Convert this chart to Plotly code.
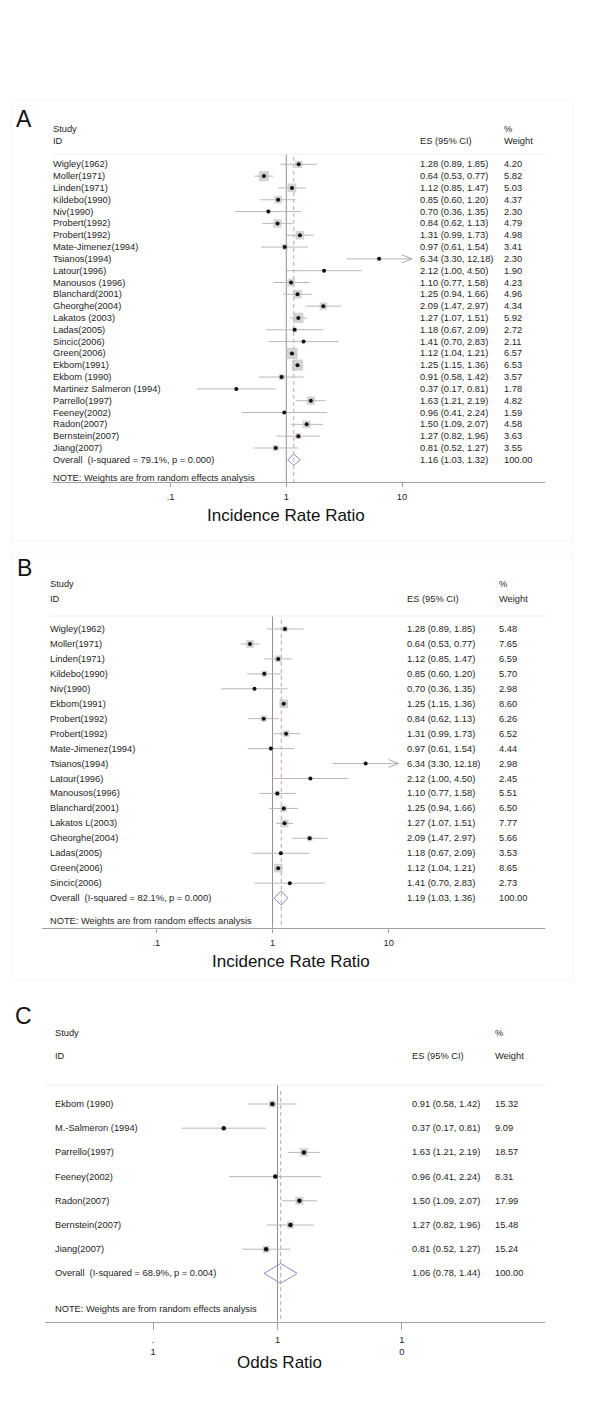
import plotly.graph_objects as go

# page body has an 8px margin; figure sized to fit the 600x1401 window
OFF = 8
W, H = 600 - OFF, 1401 - OFF

# ---------------- DATA ----------------
a_study = ["Wigley(1962)", "Moller(1971)", "Linden(1971)", "Kildebo(1990)", "Niv(1990)",
           "Probert(1992)", "Probert(1992)", "Mate-Jimenez(1994)", "Tsianos(1994)", "Latour(1996)",
           "Manousos (1996)", "Blanchard(2001)", "Gheorghe(2004)", "Lakatos (2003)", "Ladas(2005)",
           "Sincic(2006)", "Green(2006)", "Ekbom(1991)", "Ekbom (1990)", "Martinez Salmeron (1994)",
           "Parrello(1997)", "Feeney(2002)", "Radon(2007)", "Bernstein(2007)", "Jiang(2007)"]
a_es = [1.28, 0.64, 1.12, 0.85, 0.70, 0.84, 1.31, 0.97, 6.34, 2.12, 1.10, 1.25, 2.09, 1.27, 1.18,
        1.41, 1.12, 1.25, 0.91, 0.37, 1.63, 0.96, 1.50, 1.27, 0.81]
a_lo = [0.89, 0.53, 0.85, 0.60, 0.36, 0.62, 0.99, 0.61, 3.30, 1.00, 0.77, 0.94, 1.47, 1.07, 0.67,
        0.70, 1.04, 1.15, 0.58, 0.17, 1.21, 0.41, 1.09, 0.82, 0.52]
a_hi = [1.85, 0.77, 1.47, 1.20, 1.35, 1.13, 1.73, 1.54, 12.18, 4.50, 1.58, 1.66, 2.97, 1.51, 2.09,
        2.83, 1.21, 1.36, 1.42, 0.81, 2.19, 2.24, 2.07, 1.96, 1.27]
a_wt = [4.20, 5.82, 5.03, 4.37, 2.30, 4.79, 4.98, 3.41, 2.30, 1.90, 4.23, 4.96, 4.34, 5.92, 2.72,
        2.11, 6.57, 6.53, 3.57, 1.78, 4.82, 1.59, 4.58, 3.63, 3.55]
a_overall = ["Overall\u00a0\u00a0(I-squared = 79.1%, p = 0.000)", 1.16, 1.03, 1.32, 100.00]

b_study = ["Wigley(1962)", "Moller(1971)", "Linden(1971)", "Kildebo(1990)", "Niv(1990)",
           "Ekbom(1991)", "Probert(1992)", "Probert(1992)", "Mate-Jimenez(1994)", "Tsianos(1994)",
           "Latour(1996)", "Manousos(1996)", "Blanchard(2001)", "Lakatos L(2003)", "Gheorghe(2004)",
           "Ladas(2005)", "Green(2006)", "Sincic(2006)"]
b_es = [1.28, 0.64, 1.12, 0.85, 0.70, 1.25, 0.84, 1.31, 0.97, 6.34, 2.12, 1.10, 1.25, 1.27, 2.09,
        1.18, 1.12, 1.41]
b_lo = [0.89, 0.53, 0.85, 0.60, 0.36, 1.15, 0.62, 0.99, 0.61, 3.30, 1.00, 0.77, 0.94, 1.07, 1.47,
        0.67, 1.04, 0.70]
b_hi = [1.85, 0.77, 1.47, 1.20, 1.35, 1.36, 1.13, 1.73, 1.54, 12.18, 4.50, 1.58, 1.66, 1.51, 2.97,
        2.09, 1.21, 2.83]
b_wt = [5.48, 7.65, 6.59, 5.70, 2.98, 8.60, 6.26, 6.52, 4.44, 2.98, 2.45, 5.51, 6.50, 7.77, 5.66,
        3.53, 8.65, 2.73]
b_overall = ["Overall\u00a0\u00a0(I-squared = 82.1%, p = 0.000)", 1.19, 1.03, 1.36, 100.00]

c_study = ["Ekbom (1990)", "M.-Salmeron (1994)", "Parrello(1997)", "Feeney(2002)", "Radon(2007)",
           "Bernstein(2007)", "Jiang(2007)"]
c_es = [0.91, 0.37, 1.63, 0.96, 1.50, 1.27, 0.81]
c_lo = [0.58, 0.17, 1.21, 0.41, 1.09, 0.82, 0.52]
c_hi = [1.42, 0.81, 2.19, 2.24, 2.07, 1.96, 1.27]
c_wt = [15.32, 9.09, 18.57, 8.31, 17.99, 15.48, 15.24]
c_overall = ["Overall\u00a0\u00a0(I-squared = 68.9%, p = 0.004)", 1.06, 0.78, 1.44, 100.00]

tick_vals = [0.1, 1, 10]
tick_text_ab = [".1", "1", "10"]
tick_text_c = [".<br>1", "1", "1<br>0"]

# ---------------- LAYOUT CONSTANTS (window pixels) ----------------
FONT = "Arial, 'Liberation Sans', sans-serif"
TXT = "#1e1e1e"
FS = 9.3

panels = [
    dict(key="", data=(a_study, a_es, a_lo, a_hi, a_wt, a_overall), letter="A", letter_xy=(24, 119),
         study_x=51, es_x=418, wt_x=502, hdr1_y=129, hdr2_y=141, sep=(51.7, 545, 154),
         row0=164.3, sp=11.82, axis_y=482.3, dom=(51.7, 545), x1=286.3, dec=115.7,
         note_y=477.7, title="Incidence Rate Ratio", title_xy=(286, 515.7), ticklen=4,
         ticktext=tick_text_ab, box=(11, 100, 573, 541), sqk=1.72, dot=4, dh=0.48),
    dict(key="2", data=(b_study, b_es, b_lo, b_hi, b_wt, b_overall), letter="B", letter_xy=(24, 568),
         study_x=48, es_x=405, wt_x=497, hdr1_y=584, hdr2_y=599, sep=(48.6, 546, 616),
         row0=629, sp=14.95, axis_y=927.7, dom=(42, 545.4), x1=272.5, dec=116.15,
         note_y=920.7, title="Incidence Rate Ratio", title_xy=(291, 961), ticklen=4,
         ticktext=tick_text_ab, box=(11, 552, 573, 980), sqk=1.0, dot=4, dh=0.47),
    dict(key="3", data=(c_study, c_es, c_lo, c_hi, c_wt, c_overall), letter="C", letter_xy=(23, 1016),
         study_x=53, es_x=410, wt_x=493, hdr1_y=1032.7, hdr2_y=1056, sep=(46, 545, 1085),
         row0=1104, sp=24.2, axis_y=1321.7, dom=(45, 545), x1=277.5, dec=124.4,
         note_y=1309.3, title="Odds Ratio", title_xy=(279.4, 1362.3), ticklen=7,
         ticktext=tick_text_c, box=None, sqk=0.45, dot=4.5, dh=0.41),
]


def px(x):
    return (x - OFF) / W


def py(y):
    return 1 - (y - OFF) / H


fig = go.Figure()
annotations = []
shapes = []
layout = {}

for p in panels:
    study, es, lo, hi, wt, ov = p["data"]
    k = p["key"]
    xa, ya = "x" + k, "y" + k
    n = len(study)
    rows = list(range(n))
    orow = n
    row0, sp = p["row0"], p["sp"]
    top_i = (p["sep"][2] - row0) / sp
    bot_i = (p["axis_y"] - row0) / sp

    # axes
    xr = [(p["dom"][0] - p["x1"]) / p["dec"], (p["dom"][1] - p["x1"]) / p["dec"]]
    layout["xaxis" + k] = dict(
        type="log", domain=[px(p["dom"][0]), px(p["dom"][1])], range=xr, anchor=ya,
        showgrid=False, zeroline=False, showline=True, linecolor="#a0a0a0", linewidth=1,
        ticks="outside", ticklen=p["ticklen"], tickcolor="#a0a0a0", tickwidth=1,
        tickvals=tick_vals, ticktext=p["ticktext"],
        tickfont=dict(family=FONT, size=FS, color=TXT), ticklabelstandoff=2,
    )
    layout["yaxis" + k] = dict(
        domain=[py(p["axis_y"]), py(p["sep"][2])], range=[bot_i, top_i], anchor=xa,
        showgrid=False, zeroline=False, showline=False, showticklabels=False, ticks="",
    )

    # reference line at 1 and dashed overall line
    fig.add_trace(go.Scatter(x=[1, 1], y=[top_i, bot_i], mode="lines", xaxis=xa, yaxis=ya,
                             line=dict(color="#8f8f8f", width=1), hoverinfo="skip", showlegend=False))
    fig.add_trace(go.Scatter(x=[ov[1], ov[1]], y=[top_i + 0.25, bot_i], mode="lines", xaxis=xa, yaxis=ya,
                             line=dict(color="#dc9a9a", width=1, dash="4px,3px"),
                             hoverinfo="skip", showlegend=False))

    # CI lines
    cx, cy = [], []
    for i in rows:
        cx += [lo[i], hi[i], None]
        cy += [i, i, None]
    fig.add_trace(go.Scatter(x=cx, y=cy, mode="lines", xaxis=xa, yaxis=ya,
                             line=dict(color="#b8b8b8", width=1), hoverinfo="skip", showlegend=False))

    # arrows for CIs beyond last tick
    ax_, ay_ = [], []
    f = 10 ** (10 / p["dec"])
    hh = 4 / sp
    for i in rows:
        if hi[i] > tick_vals[-1]:
            ax_ += [hi[i] / f, hi[i], hi[i] / f, None]
            ay_ += [i - hh, i, i + hh, None]
    if ax_:
        fig.add_trace(go.Scatter(x=ax_, y=ay_, mode="lines", xaxis=xa, yaxis=ya,
                                 line=dict(color="#a8a8a8", width=1), hoverinfo="skip", showlegend=False))

    # weight boxes
    fig.add_trace(go.Scatter(x=es, y=rows, mode="markers", xaxis=xa, yaxis=ya,
                             marker=dict(symbol="square", size=[p["sqk"] * w for w in wt],
                                         color="#c2c2c2", line=dict(width=0)),
                             hoverinfo="skip", showlegend=False))
    # point estimates
    fig.add_trace(go.Scatter(x=es, y=rows, mode="markers", xaxis=xa, yaxis=ya,
                             marker=dict(symbol="circle", size=p["dot"], color="#111111", line=dict(width=0)),
                             hoverinfo="skip", showlegend=False))
    # overall diamond
    dh = p["dh"]
    fig.add_trace(go.Scatter(x=[ov[2], ov[1], ov[3], ov[1], ov[2]],
                             y=[orow, orow - dh, orow, orow + dh, orow],
                             mode="lines", xaxis=xa, yaxis=ya,
                             line=dict(color="#8a8acc", width=1), hoverinfo="skip", showlegend=False))

    # text columns
    for i in rows + [orow]:
        if i < n:
            lab, e, l, h, w = study[i], es[i], lo[i], hi[i], wt[i]
        else:
            lab, e, l, h, w = ov
        for xx, t in [(p["study_x"], lab), (p["es_x"], f"{e:.2f} ({l:.2f}, {h:.2f})"),
                      (p["wt_x"], f"{w:.2f}")]:
            annotations.append(dict(x=px(xx), y=i, xref="paper", yref=ya, text=t, showarrow=False,
                                    xanchor="left", yanchor="middle",
                                    font=dict(family=FONT, size=FS, color=TXT)))

    # headers
    for xx, yy, t in [(p["study_x"], p["hdr1_y"], "Study"), (p["study_x"], p["hdr2_y"], "ID"),
                      (p["es_x"], p["hdr2_y"], "ES (95% CI)"), (p["wt_x"], p["hdr1_y"], "%"),
                      (p["wt_x"], p["hdr2_y"], "Weight"), (p["study_x"], p["note_y"],
                                                           "NOTE: Weights are from random effects analysis")]:
        annotations.append(dict(x=px(xx), y=py(yy), xref="paper", yref="paper", text=t, showarrow=False,
                                xanchor="left", yanchor="middle",
                                font=dict(family=FONT, size=FS, color=TXT)))
    # axis title
    annotations.append(dict(x=px(p["title_xy"][0]), y=py(p["title_xy"][1]), xref="paper", yref="paper",
                            text=p["title"], showarrow=False, xanchor="center", yanchor="middle",
                            font=dict(family=FONT, size=17, color="#111111")))
    # panel letter
    annotations.append(dict(x=px(p["letter_xy"][0]), y=py(p["letter_xy"][1]), xref="paper", yref="paper",
                            text=p["letter"], showarrow=False, xanchor="center", yanchor="middle",
                            font=dict(family=FONT, size=23, color="#111111")))
    # header separator
    shapes.append(dict(type="line", xref="paper", yref="paper", x0=px(p["sep"][0]), x1=px(p["sep"][1]),
                       y0=py(p["sep"][2]), y1=py(p["sep"][2]), line=dict(color="#eeeeee", width=1)))
    # faint frame
    if p["box"]:
        b = p["box"]
        shapes.append(dict(type="rect", xref="paper", yref="paper", x0=px(b[0]), x1=px(b[2]),
                           y0=py(b[3]), y1=py(b[1]), line=dict(color="#f4f4f4", width=1),
                           fillcolor="rgba(0,0,0,0)", layer="below"))

fig.update_layout(
    width=W, height=H, autosize=False,
    margin=dict(l=0, r=0, t=0, b=0),
    paper_bgcolor="white", plot_bgcolor="white",
    showlegend=False,
    annotations=annotations, shapes=shapes,
    **layout,
)

fig.write_html("out.html")
